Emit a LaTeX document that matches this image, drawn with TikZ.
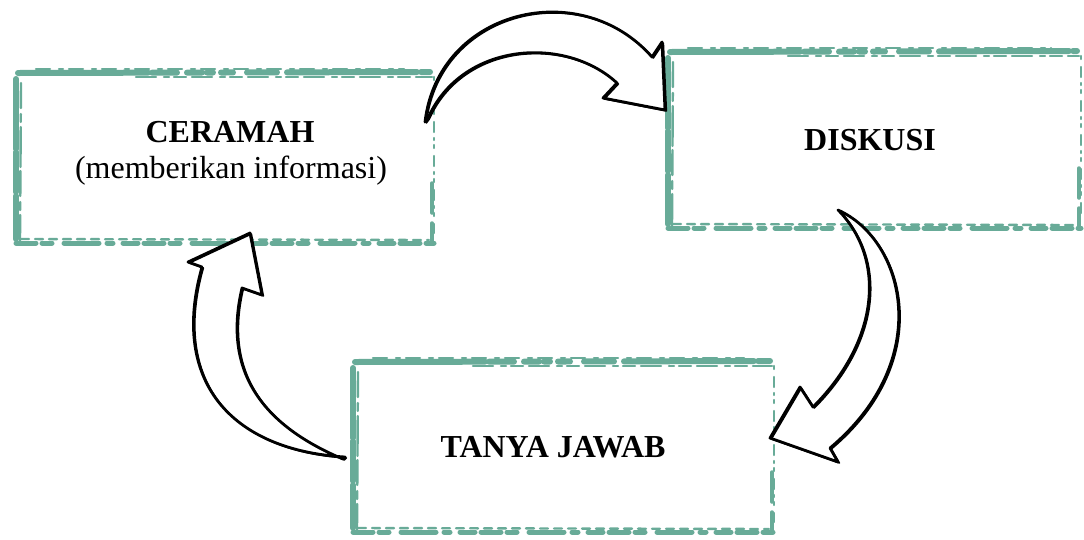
\documentclass[tikz,border=0pt]{standalone}
\usepackage{fontspec}
\setmainfont{Liberation Serif}
\begin{document}
\definecolor{skteal}{RGB}{104,171,152}
\tikzset{
  skA/.style={draw=skteal, line width=6pt, line cap=round},
  skB/.style={draw=skteal, line width=2.4pt, line cap=round},
  arr/.style={draw=black, fill=white, line width=2.8pt, line join=round},
  arrb/.style={draw=black, line width=1.5pt, line join=round},
  lbl/.style={font=\fontsize{32}{36}\selectfont, inner sep=0pt, anchor=base},
  boxarea/.style={draw=none, inner sep=0pt}
}
\newcommand{\skbox}[4]{%
  \draw[skA, dash pattern=on 70pt off 3pt on 40pt off 4pt on 60pt off 3pt] (#1,#2+6) -- (#1,#4-4);
  \draw[skB, dash pattern=on 25pt off 6pt on 8pt off 5pt on 40pt off 4pt] (#1+5,#2+10) -- (#1+4,#4-2);
  \draw[skA, dash pattern=on 130pt off 4pt on 25pt off 10pt on 15pt off 5pt on 6pt off 8pt on 12pt off 14pt on 30pt off 10pt] (#1+2,#2) -- (#3-4,#2-1);
  \draw[skB, dash pattern=on 20pt off 8pt on 5pt off 5pt on 12pt off 6pt] (#1+120,#2+4) -- (#3-2,#2+4);
  \draw[skB, dash pattern=on 14pt off 9pt on 4pt off 6pt] (#1+20,#2-4) -- (#3-30,#2-4);
  \draw[skB, dash pattern=on 3pt off 8pt on 10pt off 6pt on 2pt off 5pt] (#3,#2+4) -- (#3,#4-10);
  \draw[skB, line width=3.5pt, dash pattern=on 30pt off 10pt] (#3-2,#4-60) -- (#3-2,#4);
  \draw[skA, line width=5pt, dash pattern=on 20pt off 6pt on 10pt off 12pt on 35pt off 8pt on 6pt off 10pt on 15pt off 6pt] (#1,#4) -- (#3,#4);
  \draw[skB, dash pattern=on 8pt off 6pt] (#1+5,#4-4) -- (#3-5,#4-3);
}
\newcommand{\sketcharrow}[1]{%
  \filldraw[arr] #1;
  \draw[arrb, shift={(1.4,1.0)}] #1;
}
\begin{tikzpicture}[x=1pt, y=-1pt]
\useasboundingbox[fill=white] (0,0) rectangle (1084,539);
% boxes
\skbox{16}{73}{434}{243}
\skbox{668}{52}{1081}{228}
\skbox{353}{362}{774}{532}
\node[boxarea, minimum width=418pt, minimum height=170pt] (ceramah) at (225,158) {};
\node[boxarea, minimum width=413pt, minimum height=176pt] (diskusi) at (874.5,140) {};
\node[boxarea, minimum width=421pt, minimum height=170pt] (tanya) at (563.5,447) {};
% labels
\node[lbl] (t1) at (230,142) {\bfseries CERAMAH};
\node[lbl] (t1b) at (231,178) {(memberikan informasi)};
\node[lbl] (t2) at (870,150) {\bfseries DISKUSI};
\node[lbl] (t3) at (553,457) {\bfseries TANYA JAWAB};
% arrows
\sketcharrow{(425,122) .. controls (438,10) and (580,-25) .. (652,57) -- (662,42) -- (665,110) -- (603,98) -- (617,83) .. controls (565,35) and (462,42) .. (428,118) -- cycle}
\sketcharrow{(838,210) .. controls (905,240) and (935,360) .. (830,448) -- (838,462) -- (770,438) -- (800,387) -- (813,407) .. controls (880,340) and (885,260) .. (840,212) -- cycle}
\sketcharrow{(345,457) .. controls (230,450) and (170,380) .. (202,267) -- (188,262) -- (250,233) -- (262,295) -- (242,288) .. controls (225,360) and (250,420) .. (343,459) -- cycle}
\end{tikzpicture}
\end{document}
